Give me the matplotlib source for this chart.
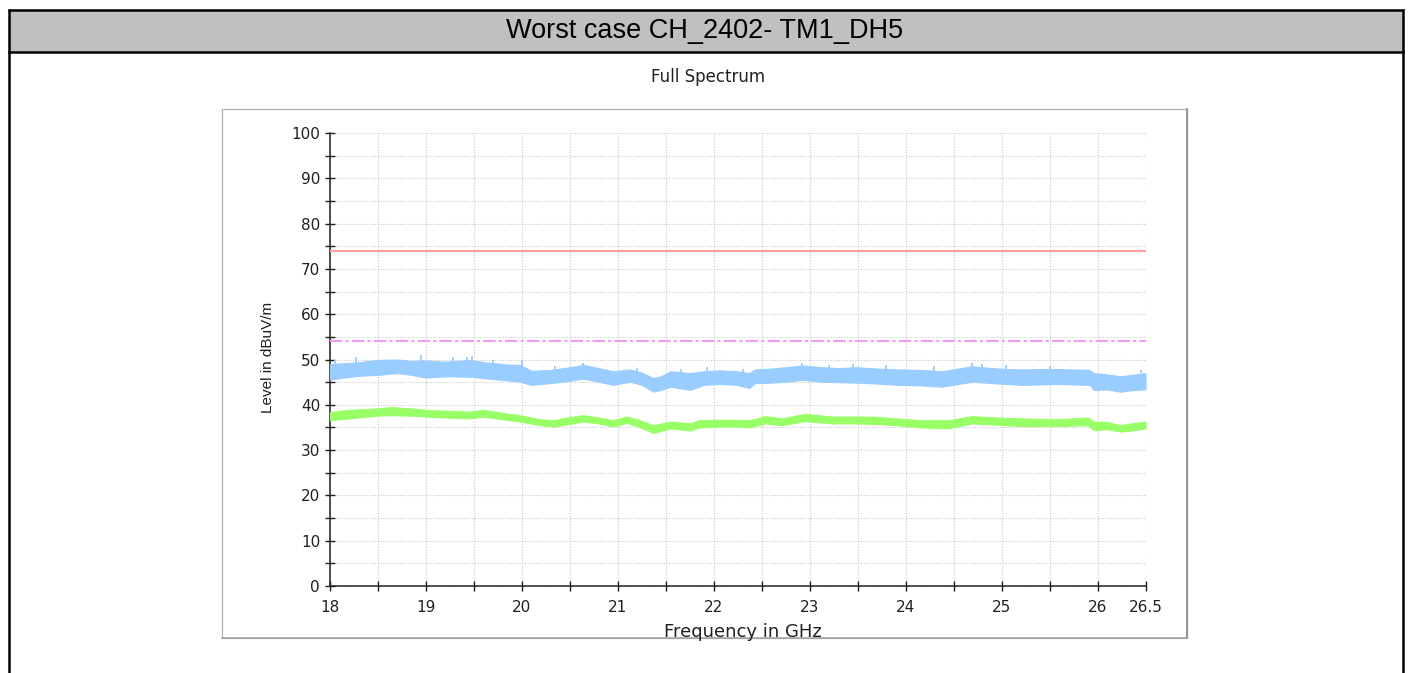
import numpy as np
import matplotlib.pyplot as plt
from matplotlib.patches import Rectangle
from matplotlib.lines import Line2D

# Peak trace (blue) - envelope
blue_f = [18.00, 18.15, 18.30, 18.49, 18.70, 18.85, 19.00, 19.20, 19.46, 19.65, 19.85, 19.98,
          20.10, 20.30, 20.50, 20.64, 20.80, 20.95, 21.13, 21.25, 21.37, 21.45, 21.55, 21.75,
          21.90, 22.05, 22.24, 22.37, 22.43, 22.60, 22.75, 22.92, 23.13, 23.30, 23.48, 23.70,
          23.93, 24.15, 24.38, 24.55, 24.69, 24.90, 25.05, 25.21, 25.40, 25.57, 25.75, 25.92,
          25.96, 26.10, 26.24, 26.35, 26.50]
blue_lo = [45.6, 46.0, 46.4, 46.6, 47.0, 46.6, 46.0, 46.3, 46.2, 45.8, 45.4, 45.1,
           44.4, 44.8, 45.3, 45.8, 45.1, 44.4, 45.1, 44.4, 42.9, 43.3, 44.0, 43.3,
           44.4, 44.6, 44.4, 43.7, 44.8, 44.9, 45.1, 45.5, 45.1, 45.0, 44.9, 44.7,
           44.4, 44.3, 44.0, 44.6, 45.1, 44.8, 44.6, 44.4, 44.5, 44.6, 44.5, 44.4,
           43.3, 43.4, 42.9, 43.2, 43.4]
blue_hi = [49.0, 49.2, 49.4, 49.9, 50.0, 49.7, 49.8, 49.5, 49.9, 49.3, 48.9, 48.8,
           47.5, 47.7, 48.3, 48.8, 48.1, 47.4, 47.8, 47.1, 45.9, 46.3, 47.4, 47.0,
           47.4, 47.6, 47.4, 47.0, 47.8, 48.0, 48.3, 48.7, 48.3, 48.1, 48.3, 48.0,
           47.8, 47.7, 47.4, 48.0, 48.5, 48.1, 47.9, 47.8, 47.9, 47.9, 47.8, 47.7,
           47.0, 46.7, 46.3, 46.6, 47.0]
# single spikes above the blue band
spike_f = [18.05, 18.27, 18.95, 19.28, 19.43, 19.48, 19.70, 20.00, 20.35, 20.64, 21.20,
           21.66, 21.93, 22.30, 22.92, 23.20, 23.45, 23.80, 24.30, 24.69, 24.80, 25.05,
           25.50, 26.45]
spike_v = [49.8, 50.5, 51.0, 50.5, 50.6, 50.7, 49.9, 49.9, 48.6, 49.3, 48.2,
           47.9, 48.4, 48.0, 49.3, 48.8, 49.0, 48.7, 48.5, 49.3, 48.9, 48.8,
           48.6, 47.6]

# Average trace (green)
green_f = [18.00, 18.20, 18.49, 18.64, 18.85, 19.00, 19.20, 19.46, 19.60, 19.80, 19.98, 20.19,
           20.33, 20.50, 20.64, 20.80, 20.95, 21.09, 21.20, 21.37, 21.55, 21.75, 21.85, 22.05,
           22.24, 22.37, 22.54, 22.71, 22.95, 23.23, 23.45, 23.65, 23.90, 24.17, 24.45, 24.69,
           24.95, 25.21, 25.57, 25.90, 25.96, 26.10, 26.24, 26.35, 26.50]
green_lo = [36.6, 37.0, 37.6, 37.7, 37.6, 37.4, 37.2, 37.0, 37.4, 36.8, 36.3, 35.5,
            35.2, 35.8, 36.3, 35.9, 35.2, 36.0, 35.3, 33.8, 34.8, 34.3, 35.0, 35.2,
            35.2, 35.0, 35.9, 35.5, 36.4, 35.9, 35.9, 35.8, 35.5, 35.0, 34.8, 35.9,
            35.6, 35.3, 35.3, 35.5, 34.4, 34.6, 34.1, 34.3, 34.8]
green_hi = [38.4, 38.9, 39.2, 39.5, 39.2, 38.9, 38.7, 38.5, 38.9, 38.2, 37.7, 36.8,
            36.6, 37.3, 37.7, 37.2, 36.6, 37.4, 36.8, 35.5, 36.3, 35.9, 36.6, 36.7,
            36.7, 36.6, 37.5, 37.0, 38.0, 37.4, 37.4, 37.4, 37.0, 36.6, 36.6, 37.5,
            37.2, 37.0, 36.8, 37.2, 36.3, 36.2, 35.5, 35.9, 36.3]

# limit lines
peak_limit = 74
avg_limit = 54
f_range = [18, 26.5]

x_ticks = [18, 18.5, 19, 19.5, 20, 20.5, 21, 21.5, 22, 22.5, 23, 23.5, 24, 24.5, 25, 25.5, 26, 26.5]
x_labels = ['18', '', '19', '', '20', '', '21', '', '22', '', '23', '', '24', '', '25', '', '26', '26.5']
y_ticks = list(range(0, 101, 5))
y_labels = [str(v) if v % 10 == 0 else '' for v in y_ticks]

W, H = 1408, 673
fig = plt.figure(figsize=(W / 100, H / 100), dpi=100)

# background layer in pixel coords: table frame, header, chart panel
bg = fig.add_axes([0, 0, 1, 1], zorder=0)
bg.set_xlim(0, W)
bg.set_ylim(H, 0)
bg.axis('off')
bg.add_patch(Rectangle((9, 10), 1394, 42, fc='#c0c0c0', ec='none'))
for xs, ys in [([8, 1404], [10, 10]), ([8, 1404], [52, 52]),
               ([9, 9], [9, H]), ([1403, 1403], [9, H])]:
    bg.add_line(Line2D(xs, ys, color='black', lw=1.8, solid_capstyle='butt'))
bg.text(705, 31, 'Worst case CH_2402- TM1_DH5', ha='center', va='center',
        fontsize=19.5, family='Liberation Sans', color='black')

panel = Rectangle((222, 109), 965, 529, fc='white', ec='#b0b0b0', lw=0.9)
bg.add_patch(panel)
bg.add_line(Line2D([1186.5, 1186.5], [109, 638], color='#909090', lw=1.3))
bg.add_line(Line2D([222, 1187], [637.5, 637.5], color='#a0a0a0', lw=1.1))

bg.text(708, 77, 'Full Spectrum', ha='center', va='center', fontsize=12,
        family='DejaVu Sans', color='#202020')
bg.text(268, 357, 'Level in dBuV/m', ha='center', va='center', rotation=90,
        fontsize=11, family='Liberation Sans', color='#202020')
xl = bg.text(743, 637, 'Frequency in GHz', ha='center', va='baseline', fontsize=13,
             family='DejaVu Sans', color='#202020')
xl.set_clip_path(panel)

# plot area
ax = fig.add_axes([330 / W, 1 - 586 / H, 815.5 / W, 453 / H], zorder=1)
ax.patch.set_alpha(0)
ax.fill_between(blue_f, blue_lo, blue_hi, color='#99ccff', lw=0.8, ec='#99ccff', zorder=3)
ax.vlines(spike_f, 47.0, spike_v, color='#99ccff', lw=1.3, zorder=3)
ax.fill_between(green_f, green_lo, green_hi, color='#99ff66', lw=0.8, ec='#99ff66', zorder=3)
ax.plot(f_range, [peak_limit, peak_limit], color='#ff9f9f', lw=1.5, zorder=4)
ax.plot(f_range, [avg_limit, avg_limit], color='#f59af5', lw=1.5,
        linestyle=(0, (6, 1.5, 1.5, 1.5)), zorder=4)

ax.set_xlim(18, 26.5)
ax.set_ylim(0, 100)
ax.set_xticks(x_ticks)
ax.set_xticklabels(x_labels)
ax.set_yticks(y_ticks)
ax.set_yticklabels(y_labels)
ax.grid(True, color='#c8c8c8', linestyle=(0, (1, 1.5)), lw=0.8, zorder=1)
ax.set_axisbelow(True)
for s in ['top', 'right']:
    ax.spines[s].set_visible(False)
for s in ['left', 'bottom']:
    ax.spines[s].set_color('#202020')
    ax.spines[s].set_linewidth(1.1)
ax.tick_params(axis='x', direction='inout', length=6.5, width=1, pad=6.8,
               labelsize=11, colors='#202020')
ax.tick_params(axis='y', direction='inout', length=7.9, width=1, pad=3.2,
               labelsize=11, colors='#202020')

plt.savefig('out.png', dpi=100)
